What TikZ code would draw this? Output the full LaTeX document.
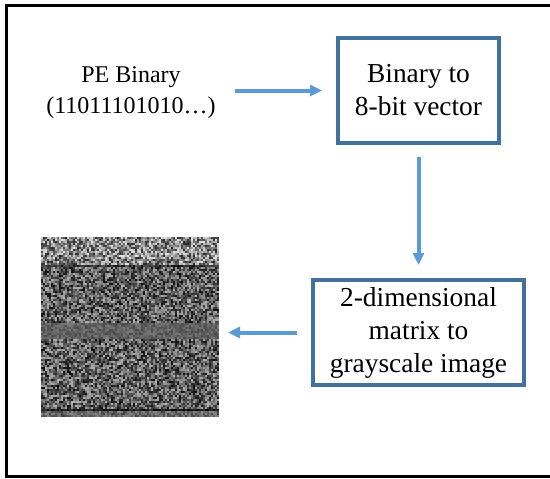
\documentclass[tikz,border=0pt]{standalone}
\usepackage{fontspec}
\setmainfont{Liberation Serif}
\usepackage{xcolor}
\usetikzlibrary{positioning, calc, arrows.meta}

\definecolor{boxblue}{HTML}{41719C}
\definecolor{arrowblue}{HTML}{5B9BD5}

\tikzset{
    stagebox/.style={draw=boxblue, line width=2pt, fill=white, align=center,
        minimum height=52.5pt, inner sep=0pt,
        font=\fontsize{13.7}{16.5}\selectfont},
    flow/.style={draw=arrowblue, line width=2pt,
        -{Triangle[length=6pt, width=5.5pt]}}
}

\begin{document}
\begin{tikzpicture}[x=0.5pt, y=-0.5pt]

    \useasboundingbox (0,0) rectangle (550,478);

    % --- Outer frame (runs off the right edge) ---
    \draw[line width=1.5pt] (552,5) -- (6,5) -- (6,476) -- (552,476);

    % --- Input text ---
    \node[align=center, inner sep=0pt, font=\fontsize{12}{15.5}\selectfont]
        (pe) at (131,93) {PE Binary\\(11011101010…)};

    % --- Processing boxes ---
    \node[stagebox, minimum width=80.5pt] (vec) at (418.5,90.5)
        {Binary to\\8-bit vector};
    \node[stagebox, minimum width=105.5pt] (gray) at (418.5,332.5)
        {2-dimensional\\matrix to\\grayscale image};

    % --- Grayscale output picture (random noise) ---
    \node[minimum width=89pt, minimum height=89.5pt, inner sep=0pt,
        outer sep=0pt] (img) at (130,326.5) {};
    \pgfmathsetseed{4242}
    \foreach \r in {0,...,89}{
        \def\lo{30}\def\hi{95}
        \ifnum\r<14 \def\lo{10}\def\hi{85}\fi
        \ifnum\r=14 \def\lo{65}\def\hi{95}\fi
        \ifnum\r>42 \ifnum\r<51 \def\lo{52}\def\hi{72}\fi\fi
        \ifnum\r=86 \def\lo{80}\def\hi{100}\fi
        \ifnum\r>86 \def\lo{45}\def\hi{75}\fi
        \foreach \c in {0,...,88}{
            \pgfmathrandominteger{\g}{\lo}{\hi}
            \fill[black!\g] ({41+2*\c},{237+2*\r}) rectangle ++(2.2,2.2);
        }
    }

    % --- Flow arrows ---
    \draw[flow, shorten <=9.5pt, shorten >=7pt] (pe.east |- vec.west) -- (vec.west);
    \draw[flow, shorten <=6pt, shorten >=6.5pt] (vec.south) -- (gray.north);
    \draw[flow, shorten <=7pt, shorten >=4.5pt] (gray.west) -- (img.east |- gray.west);

\end{tikzpicture}
\end{document}
